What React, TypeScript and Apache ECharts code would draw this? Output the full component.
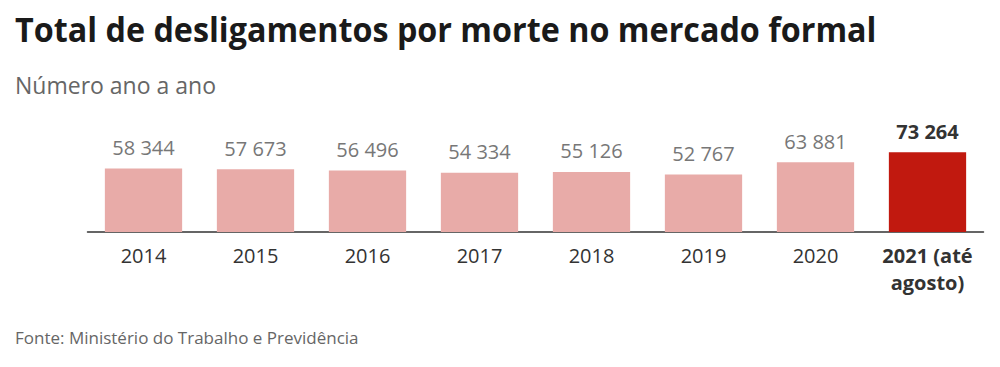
import React, { useEffect, useRef } from "react";
import * as echarts from "echarts";

const categories = ["2014", "2015", "2016", "2017", "2018", "2019", "2020", "2021 (até\nagosto)"];
const values = [58344, 57673, 56496, 54334, 55126, 52767, 63881, 73264];
const highlightIndex = 7;

const titleText = "Total de desligamentos por morte no mercado formal";
const subtitleText = "Número ano a ano";
const sourceText = "Fonte: Ministério do Trabalho e Previdência";

const fmt = (v: number) => String(v).replace(/\B(?=(\d{3})+(?!\d))/g, " ");

export default function App() {
  const ref = useRef<HTMLDivElement>(null);
  useEffect(() => {
    if (!ref.current) return;
    const chart = echarts.init(ref.current, undefined, { renderer: "svg" });
    const font = "'Open Sans', sans-serif";
    chart.setOption({
      animation: false,
      backgroundColor: "#ffffff",
      graphic: [
        {
          type: "text",
          x: 15,
          y: 12,
          scaleX: 0.95,
          style: { text: titleText, font: `bold 34px ${font}`, fill: "#1a1a1a" },
        },
        {
          type: "text",
          x: 15,
          y: 73,
          style: { text: subtitleText, font: `23px ${font}`, fill: "#666666" },
        },
        {
          type: "text",
          x: 15,
          y: 329,
          style: { text: sourceText, font: `17px ${font}`, fill: "#666666" },
        },
      ],
      grid: { left: 87.5, right: 16.5, top: 123, height: 109, containLabel: false },
      xAxis: {
        type: "category",
        data: categories,
        axisLine: { show: true, lineStyle: { color: "#333333", width: 1.5 } },
        axisTick: { show: false },
        axisLabel: {
          interval: 0,
          margin: 10,
          fontFamily: font,
          fontSize: 20,
          color: "#333333",
          lineHeight: 27,
          formatter: (v: string, i: number) => (i === highlightIndex ? `{b|${v}}` : v),
          rich: { b: { fontFamily: font, fontSize: 20, fontWeight: "bold", color: "#333333", lineHeight: 27 } },
        },
      },
      yAxis: {
        type: "value",
        min: 0,
        max: 100000,
        show: false,
        splitLine: { show: false },
      },
      series: [
        {
          type: "bar",
          barCategoryGap: "31%",
          data: values.map((v, i) => ({
            value: v,
            itemStyle: { color: i === highlightIndex ? "#c1190f" : "#e8aba8" },
            label: i === highlightIndex ? { fontWeight: "bold", color: "#333333" } : undefined,
          })),
          label: {
            show: true,
            position: "top",
            distance: 11,
            fontFamily: font,
            fontSize: 20,
            color: "#777777",
            formatter: (p: any) => fmt(p.value),
          },
        },
      ],
    });
    return () => chart.dispose();
  }, []);
  return <div ref={ref} style={{ width: 1000, height: 367, margin: -8 }} />;
}
